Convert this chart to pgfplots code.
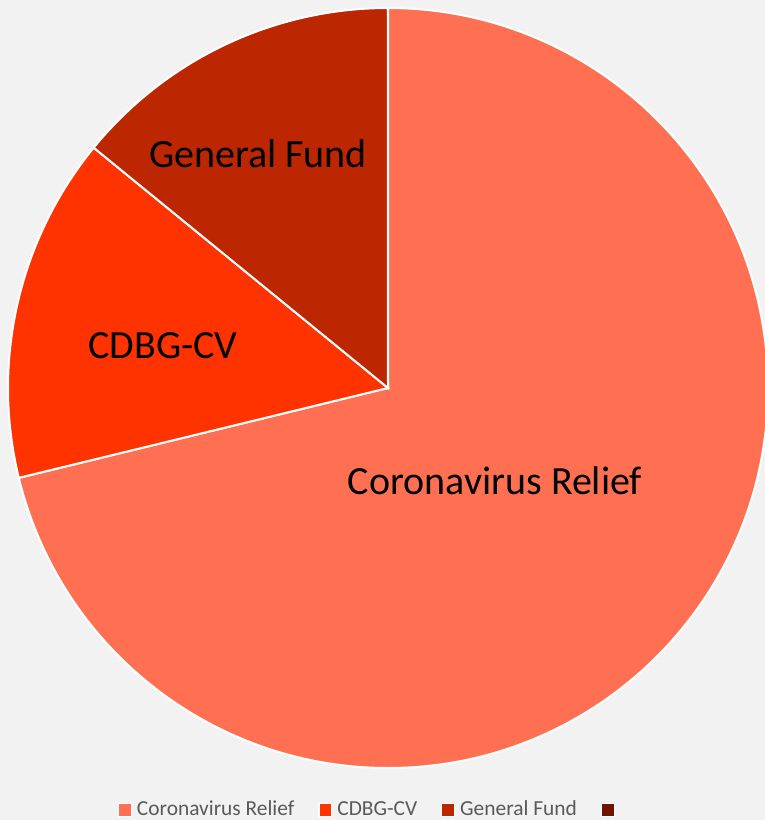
\documentclass[border=0pt]{standalone}
\usepackage{fontspec}
\setmainfont{Carlito}
\usepackage{pgfplots}
\usepackage{pgfplotstable}
\pgfplotsset{compat=1.18}
\definecolor{bg}{HTML}{F2F2F2}
\definecolor{cA}{HTML}{FF7052}
\definecolor{cB}{HTML}{FF3300}
\definecolor{cC}{HTML}{BC2600}
\definecolor{cD}{HTML}{701400}
\definecolor{legtext}{HTML}{595959}
\pgfplotstableread{
label value
CR 71.2
CDBG 14.7
GF 14.1
}\piedata
\pgfplotstablegetelem{0}{value}\of\piedata \let\vA\pgfplotsretval
\pgfplotstablegetelem{1}{value}\of\piedata \let\vB\pgfplotsretval
\pgfplotstablegetelem{2}{value}\of\piedata \let\vC\pgfplotsretval
\pgfmathsetmacro\tot{\vA+\vB+\vC}
\pgfmathsetmacro\aA{90-360*(\vA/\tot)}
\pgfmathsetmacro\aB{\aA-360*(\vB/\tot)}
\pgfmathsetmacro\aC{\aB-360*(\vC/\tot)}
\begin{document}
\begin{tikzpicture}
\useasboundingbox (0,0) rectangle (382.5pt,410pt);
\fill[bg] (0,0) rectangle (382.5pt,410pt);
\begin{axis}[
  at={(0,0)}, anchor=south west,
  scale only axis, width=382.5pt, height=410pt,
  hide axis,
  xmin=-1.02105, xmax=0.99211,
  ymin=-1.13684, ymax=1.02105,
  legend columns=4,
  legend style={draw=none, fill=none, at={(0.1542,0.0125)}, anchor=west,
    font=\fontsize{10.7pt}{12pt}\selectfont, text=legtext,
    inner sep=0pt, outer sep=0pt,
    /tikz/every odd column/.append style={column sep=0.5pt},
    /tikz/every even column/.append style={column sep=10pt}},
  legend image code/.code={\draw[#1, draw=white, line width=0.6pt] (0pt,-3.2pt) rectangle (6.4pt,3.2pt);},
]
\addplot[forget plot, fill=cA, draw=white, line width=1pt] coordinates {(0,0) (0,1)} arc[start angle=90, end angle=\aA, radius=190pt] -- cycle;
\addplot[forget plot, fill=cB, draw=white, line width=1pt] coordinates {(0,0) ({cos(\aA)},{sin(\aA)})} arc[start angle=\aA, end angle=\aB, radius=190pt] -- cycle;
\addplot[forget plot, fill=cC, draw=white, line width=1pt] coordinates {(0,0) ({cos(\aB)},{sin(\aB)})} arc[start angle=\aB, end angle=\aC, radius=190pt] -- cycle;
\addlegendimage{fill=cA}
\addlegendentry{Coronavirus Relief}
\addlegendimage{fill=cB}
\addlegendentry{CDBG-CV}
\addlegendimage{fill=cC}
\addlegendentry{General Fund}
\addlegendimage{fill=cD}
\addlegendentry{}
\node[font=\fontsize{20pt}{24pt}\selectfont] at (axis cs:0.2816,-0.2447) {Coronavirus Relief};
\node[font=\fontsize{20pt}{24pt}\selectfont] at (axis cs:-0.592,0.1105) {CDBG-CV};
\node[font=\fontsize{20pt}{24pt}\selectfont] at (axis cs:-0.342,0.616) {General Fund};
\end{axis}
\end{tikzpicture}
\end{document}
